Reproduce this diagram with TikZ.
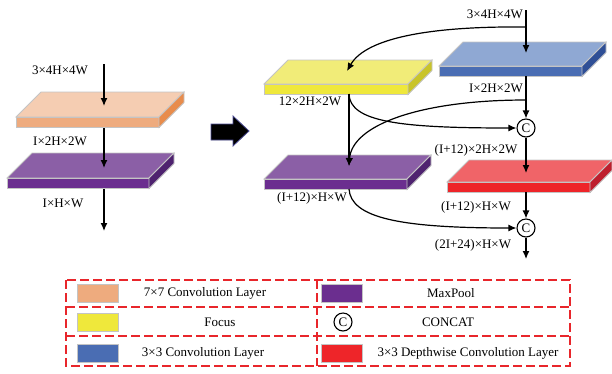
\documentclass[tikz,border=0pt]{standalone}
\usepackage{fontspec}
\setmainfont{Liberation Serif}
\usepackage{tikz}
\usetikzlibrary{arrows.meta}

\definecolor{orgtop}{HTML}{F5CDB2}
\definecolor{orgfront}{HTML}{EEAB7E}
\definecolor{orgside}{HTML}{E88C4C}
\definecolor{purtop}{HTML}{8B5FA6}
\definecolor{purfront}{HTML}{6B2E8F}
\definecolor{purside}{HTML}{4E226F}
\definecolor{yeltop}{HTML}{F1EC78}
\definecolor{yelfront}{HTML}{EFE83B}
\definecolor{yelside}{HTML}{C9C42A}
\definecolor{blutop}{HTML}{8FA8D3}
\definecolor{blufront}{HTML}{4A6DB3}
\definecolor{bluside}{HTML}{2F4F96}
\definecolor{redtop}{HTML}{F06468}
\definecolor{redfront}{HTML}{EE2529}
\definecolor{redside}{HTML}{BE1E2D}
\definecolor{legred}{HTML}{E8262B}
\definecolor{edgegray}{HTML}{C4C4C4}

% slab: x, y (front top left), width, depth, colour prefix
\newcommand{\slab}[5]{%
  \filldraw[fill=#5top, draw=edgegray, line width=0.8pt] (#1,#2) -- ++(#4,-#4) -- ++(#3,0) -- ++(-#4,#4) -- cycle;
  \filldraw[fill=#5front, draw=edgegray, line width=0.8pt] (#1,#2) rectangle ++(#3,10.5);
  \filldraw[fill=#5side, draw=edgegray, line width=0.8pt] (#1+#3,#2) -- ++(#4,-#4) -- ++(0,10.5) -- ++(-#4,#4) -- cycle;
}

\begin{document}
\begin{tikzpicture}[x=1pt, y=-1pt,
    font=\fontsize{13}{15}\selectfont,
    flow/.style={-{Latex[length=8pt,width=7pt]}, line width=1.2pt},
    concat/.style={circle, draw, line width=1.1pt, fill=white, inner sep=0pt, minimum size=18pt, font=\fontsize{13}{13}\selectfont},
    dim/.style={inner sep=1pt},
    legline/.style={draw=legred, line width=1.2pt, dash pattern=on 9pt off 4pt},
    swatch/.style={draw=edgegray, line width=0.8pt}]
  \useasboundingbox (0,0) rectangle (612,373);

  % left branch
  \slab{16}{117}{143}{25}{org}
  \slab{7}{178}{142}{25}{pur}
  \coordinate (inA) at (104,64);
  \coordinate (convT) at (104,106);
  \coordinate (convB) at (104,128);
  \coordinate (poolT) at (104,168);
  \coordinate (poolB) at (104,189);
  \coordinate (outA) at (104,231);
  \draw[flow] (inA) -- (convT);
  \draw[flow] (convB) -- (poolT);
  \draw[flow] (poolB) -- (outA);
  \node[dim] (dA1) at (60,70) {3×4H×4W};
  \node[dim] (dA2) at (60,141) {I×2H×2W};
  \node[dim] (dA3) at (63,203) {I×H×W};

  % big arrow
  \filldraw[fill=black, draw=black!60!blue!70, line width=0.8pt]
    (211,124) -- (233,124) -- (233,116) -- (249,131) -- (233,146) -- (233,140) -- (211,140) -- cycle;

  % right branch
  \slab{264}{84}{144}{24}{yel}
  \slab{439}{66}{143}{24}{blu}
  \slab{264}{179}{143}{24}{pur}
  \slab{447}{182}{143}{22}{red}

  \coordinate (inB) at (526,10);
  \coordinate (split) at (526,27);
  \coordinate (convT2) at (526,53);
  \coordinate (convB2) at (526,76);
  \coordinate (tap) at (526,100);
  \coordinate (focT) at (347,71);
  \coordinate (focB) at (349,94);
  \coordinate (poolT2) at (349,166);
  \coordinate (poolB2) at (349,189);
  \coordinate (dwT) at (526,173);
  \coordinate (dwB) at (526,192);
  \coordinate (outB) at (526,259);
  \node[concat] (cat1) at (526,128) {C};
  \node[concat] (cat2) at (526,228) {C};

  \draw[flow] (inB) -- (convT2);
  \draw[flow] (split) .. controls (430,26) and (366,38) .. (focT);
  \draw[flow] (convB2) -- (cat1);
  \draw[flow] (tap) .. controls (420,100) and (352,125) .. (poolT2);
  \draw[flow] (focB) .. controls (350,122) and (400,128) .. (cat1.west);
  \draw[flow] (focB) -- (poolT2);
  \draw[flow] (cat1) -- (dwT);
  \draw[flow] (dwB) -- (cat2);
  \draw[flow] (poolB2) .. controls (351,218) and (400,228) .. (cat2.west);
  \draw[flow] (cat2) -- (outB);

  \node[dim, anchor=east] (dB1) at (524,14) {3×4H×4W};
  \node[dim, anchor=east] (dB2) at (524,88) {I×2H×2W};
  \node[dim] (dB3) at (310,101) {12×2H×2W};
  \node[dim] (dB4) at (476,150) {(I+12)×2H×2W};
  \node[dim] (dB5) at (312,198) {(I+12)×H×W};
  \node[dim] (dB6) at (476,207) {(I+12)×H×W};
  \node[dim] (dB7) at (473,245) {(2I+24)×H×W};

  % legend
  \draw[legline] (66,280) rectangle (570,366);
  \draw[legline] (66,307) -- (570,307);
  \draw[legline] (66,336) -- (570,336);
  \draw[legline] (317,280) -- (317,366);
  \filldraw[swatch, fill=orgfront] (77,284) rectangle (118,302);
  \filldraw[swatch, fill=purfront] (321,284) rectangle (362,302);
  \filldraw[swatch, fill=yelfront] (77,313) rectangle (118,331);
  \filldraw[swatch, fill=blufront] (77,344) rectangle (118,362);
  \filldraw[swatch, fill=redfront] (321,344) rectangle (362,362);
  \node[concat] (catL) at (343,322) {C};
  \node (lg1) at (205,293) {7×7 Convolution Layer};
  \node (lg2) at (451,293) {MaxPool};
  \node (lg3) at (220,322) {Focus};
  \node (lg4) at (448,322) {CONCAT};
  \node (lg5) at (203,353) {3×3 Convolution Layer};
  \node (lg6) at (468,353) {3×3 Depthwise Convolution Layer};
\end{tikzpicture}
\end{document}
